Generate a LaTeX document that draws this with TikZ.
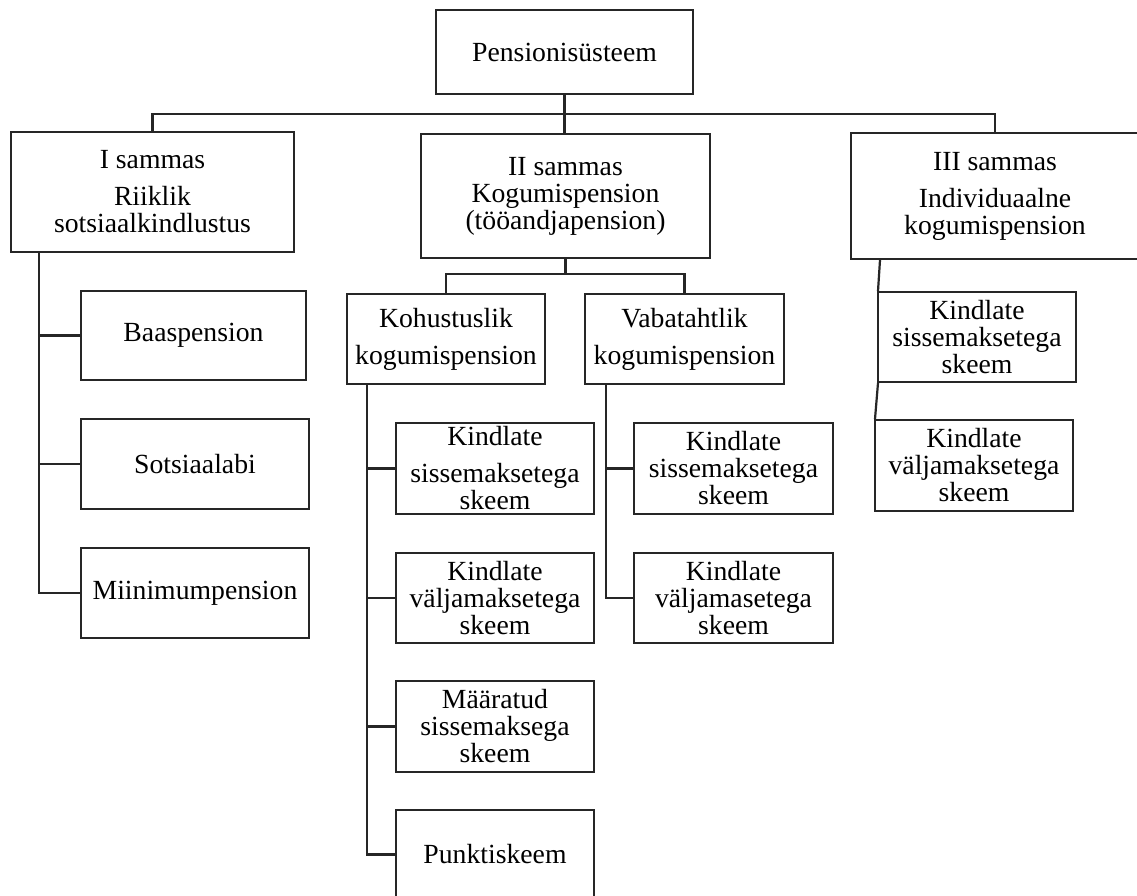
\documentclass[tikz,border=0pt]{standalone}
\usepackage{fontspec}
\setmainfont{Liberation Serif}
\tikzset{
  box/.style={draw=black!85, line width=2pt, fill=white, inner sep=0pt, align=center,
    font=\fontsize{27.7}{27}\selectfont},
  link/.style={draw=black!85, line width=2.2pt},
}
\begin{document}
\begin{tikzpicture}[x=1pt,y=-1pt]
\useasboundingbox (0,0) rectangle (1137,896);
\clip (0,0) rectangle (1137,896);
\fill[white] (0,0) rectangle (1137,896);

% boxes
\node[box, minimum width=257, minimum height=84] (top) at (564.5,52) {Pensionisüsteem};
\node[box, minimum width=283, minimum height=120] (I) at (152.5,192) {I sammas\\[10pt]Riiklik\\sotsiaalkindlustus};
\node[box, minimum width=289, minimum height=124] (II) at (565.5,196) {II sammas\\Kogumispension\\(tööandjapension)};
\node[box, minimum width=288, minimum height=126] (III) at (995,196) {III sammas\\[10pt]Individuaalne\\kogumispension};

\node[box, minimum width=225, minimum height=89] (baas) at (193.5,335.5) {Baaspension};
\node[box, minimum width=228, minimum height=90] (sots) at (195,464) {Sotsiaalabi};
\node[box, minimum width=228, minimum height=90] (miin) at (195,593) {Miinimumpension};

\node[box, minimum width=198, minimum height=90] (koh) at (446,339) {Kohustuslik\\[10pt]kogumispension};
\node[box, minimum width=199, minimum height=90] (vab) at (684.5,339) {Vabatahtlik\\[10pt]kogumispension};

\node[box, minimum width=198, minimum height=91] (k1) at (495,468.5) {Kindlate\\[10pt]sissemaksetega\\skeem};
\node[box, minimum width=198, minimum height=90] (k2) at (495,598) {Kindlate\\väljamaksetega\\skeem};
\node[box, minimum width=198, minimum height=91] (k3) at (495,726.5) {Määratud\\sissemaksega\\skeem};
\node[box, minimum width=198, minimum height=89] (k4) at (495,854.5) {Punktiskeem};

\node[box, minimum width=199, minimum height=91] (v1) at (733.5,468.5) {Kindlate\\sissemaksetega\\skeem};
\node[box, minimum width=199, minimum height=90] (v2) at (733.5,598) {Kindlate\\väljamasetega\\skeem};

\node[box, minimum width=198, minimum height=90] (t1) at (977,337) {Kindlate\\sissemaksetega\\skeem};
\node[box, minimum width=198, minimum height=91] (t2) at (974,465.5) {Kindlate\\väljamaksetega\\skeem};

% coordinates
\coordinate (bus) at (565,114);
\coordinate (bus2) at (565,274);
\coordinate (itrunk) at (39,252);
\coordinate (ktrunk) at (367,384);
\coordinate (vtrunk) at (606,384);

% top level
\draw[link] (top.south) -- (top.south |- II.north);
\draw[link] (I.north) -- (I.north |- bus) -- (III.north |- bus) -- (III.north);

% II sammas children
\draw[link] (II.south) -- (II.south |- bus2);
\draw[link] (koh.north) -- (koh.north |- bus2) -- (vab.north |- bus2) -- (vab.north);

% I sammas children
\draw[link] (itrunk) |- (miin.west);
\draw[link] (itrunk |- baas.west) -- (baas.west);
\draw[link] (itrunk |- sots.west) -- (sots.west);

% Kohustuslik children
\draw[link] (ktrunk) |- (k4.west);
\draw[link] (ktrunk |- k1.west) -- (k1.west);
\draw[link] (ktrunk |- k2.west) -- (k2.west);
\draw[link] (ktrunk |- k3.west) -- (k3.west);

% Vabatahtlik children
\draw[link] (vtrunk) |- (v2.west);
\draw[link] (vtrunk |- v1.west) -- (v1.west);

% III sammas children
\draw[link] ([xshift=30pt]III.south west) -- ([xshift=1pt]t1.north west);
\draw[link] ([xshift=1pt]t1.south west) -- ([xshift=1pt]t2.north west);
\end{tikzpicture}
\end{document}
